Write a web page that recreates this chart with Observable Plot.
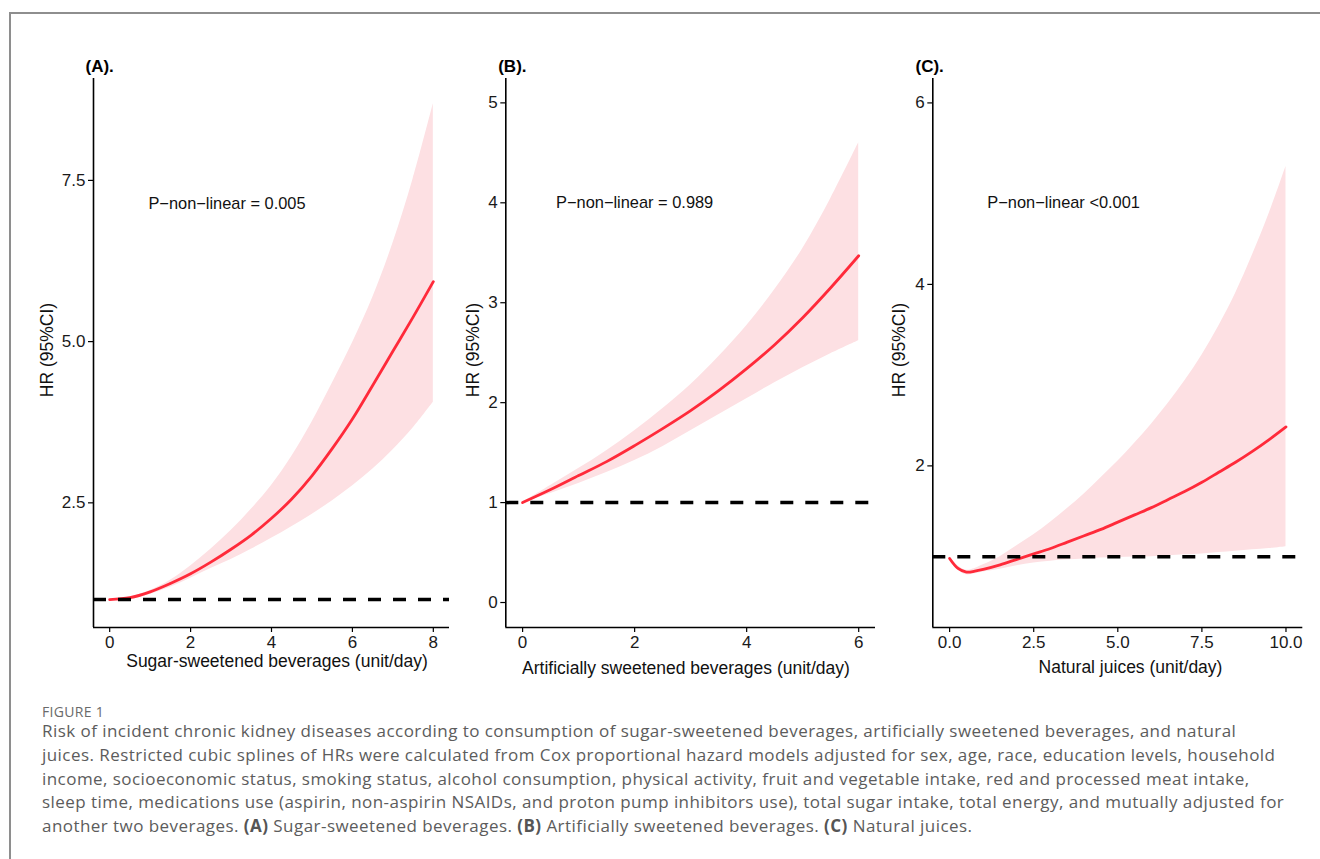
<!DOCTYPE html>
<html>
<head>
<meta charset="utf-8">
<script src="https://cdn.jsdelivr.net/npm/d3@7"></script>
<script src="https://cdn.jsdelivr.net/npm/@observablehq/plot@0.6"></script>
<style>
html,body{margin:0;padding:0;background:#fff;}
#wrap{position:relative;width:1320px;height:859px;overflow:hidden;background:#fff;}
#frame{position:absolute;left:9px;top:12px;width:1400px;height:900px;border-top:2px solid #8e8e8e;border-left:2px solid #8e8e8e;}
.panel{position:absolute;top:40px;}
.panel svg{overflow:visible;}
#figlabel{position:absolute;left:42px;top:702px;font-family:"Open Sans",sans-serif;font-size:14px;line-height:20px;color:#6a6a6a;letter-spacing:0.3px;}
#caption{position:absolute;left:42px;top:719px;font-family:"Open Sans",sans-serif;font-size:17px;letter-spacing:0.45px;line-height:23.8px;color:#5c5c5c;white-space:nowrap;}
#caption b{font-weight:700;color:#555;}
</style>
</head>
<body>
<div id="wrap">
  <div id="frame"></div>
  <div id="figlabel">FIGURE 1</div>
  <div id="caption">Risk of incident chronic kidney diseases according to consumption of sugar-sweetened beverages, artificially sweetened beverages, and natural<br>juices. Restricted cubic splines of HRs were calculated from Cox proportional hazard models adjusted for sex, age, race, education levels, household<br>income, socioeconomic status, smoking status, alcohol consumption, physical activity, fruit and vegetable intake, red and processed meat intake,<br>sleep time, medications use (aspirin, non-aspirin NSAIDs, and proton pump inhibitors use), total sugar intake, total energy, and mutually adjusted for<br>another two beverages. <b>(A)</b> Sugar-sweetened beverages. <b>(B)</b> Artificially sweetened beverages. <b>(C)</b> Natural juices.</div>
</div>
<script>
// ---------- Panel A: Sugar-sweetened beverages ----------
const A_x  = [0, 0.5, 1, 1.5, 2, 2.5, 3, 3.5, 4, 4.5, 5, 5.5, 6, 6.5, 7, 7.5, 8];
const A_hr = [1.00, 1.03, 1.12, 1.25, 1.40, 1.58, 1.78, 2.00, 2.26, 2.56, 2.92, 3.34, 3.80, 4.32, 4.85, 5.38, 5.93];
const A_lo = [1.00, 1.00, 1.08, 1.19, 1.33, 1.48, 1.62, 1.78, 1.95, 2.13, 2.32, 2.53, 2.76, 3.02, 3.32, 3.66, 4.06];
const A_hi = [1.00, 1.04, 1.14, 1.30, 1.52, 1.78, 2.07, 2.40, 2.77, 3.22, 3.75, 4.35, 4.98, 5.68, 6.52, 7.52, 8.69];
const A_xticks = [0, 2, 4, 6, 8];
const A_yticks = [2.5, 5.0, 7.5];

// ---------- Panel B: Artificially sweetened beverages ----------
const B_x  = [0, 0.5, 1, 1.5, 2, 2.5, 3, 3.5, 4, 4.5, 5, 5.5, 6];
const B_hr = [1.00, 1.13, 1.27, 1.41, 1.57, 1.74, 1.92, 2.12, 2.34, 2.58, 2.85, 3.15, 3.47];
const B_lo = [1.00, 1.09, 1.19, 1.30, 1.42, 1.56, 1.72, 1.88, 2.04, 2.20, 2.35, 2.49, 2.62];
const B_hi = [1.00, 1.17, 1.34, 1.52, 1.72, 1.94, 2.18, 2.46, 2.77, 3.13, 3.54, 4.04, 4.60];
const B_xticks = [0, 2, 4, 6];
const B_yticks = [0, 1, 2, 3, 4, 5];

// ---------- Panel C: Natural juices ----------
const C_x  = [0, 0.25, 0.5, 0.75, 1, 1.5, 2, 2.5, 3, 3.5, 4, 4.5, 5, 5.5, 6, 6.5, 7, 7.5, 8, 8.5, 9, 9.5, 10];
const C_hr = [0.98, 0.87, 0.83, 0.84, 0.86, 0.91, 0.97, 1.03, 1.09, 1.16, 1.23, 1.30, 1.38, 1.46, 1.54, 1.63, 1.72, 1.82, 1.93, 2.04, 2.16, 2.29, 2.43];
const C_lo = [0.96, 0.85, 0.80, 0.81, 0.83, 0.86, 0.90, 0.93, 0.95, 0.965, 0.975, 0.985, 0.99, 0.995, 1.00, 1.01, 1.02, 1.03, 1.045, 1.06, 1.075, 1.09, 1.11];
const C_hi = [1.00, 0.90, 0.85, 0.87, 0.91, 1.00, 1.12, 1.24, 1.38, 1.53, 1.69, 1.87, 2.05, 2.25, 2.46, 2.69, 2.94, 3.22, 3.54, 3.90, 4.32, 4.78, 5.30];
const C_xticks = [0, 2.5, 5, 7.5, 10];
const C_yticks = [2, 4, 6];

const FONT = "'Liberation Sans', Arial, Helvetica, sans-serif";
const RED = "#ff2a3a";
const BAND = "#fde0e3";

function panel(cfg) {
  const rows = cfg.x.map((x, i) => ({x, hr: cfg.hr[i], lo: cfg.lo[i], hi: cfg.hi[i]}));
  const chart = Plot.plot({
    width: cfg.width,
    height: 640,
    marginLeft: cfg.ml,
    marginRight: cfg.mr,
    marginTop: 38,
    marginBottom: 53,
    style: {fontFamily: FONT, fontSize: "17px", color: "#000", background: "transparent", overflow: "visible"},
    x: {domain: cfg.xdom},
    y: {domain: cfg.ydom},
    marks: [
      Plot.areaY(rows, {x: "x", y1: "lo", y2: "hi", fill: BAND, curve: "catmull-rom"}),
      Plot.lineY(rows, {x: "x", y: "hr", stroke: RED, strokeWidth: 2.8, curve: "catmull-rom"}),
      Plot.ruleY([1], {stroke: "#000", strokeWidth: 3.5, strokeDasharray: "13,12"}),
      Plot.ruleX([cfg.xdom[0]], {stroke: "#000", strokeWidth: 1.6}),
      Plot.ruleY([cfg.ydom[0]], {stroke: "#000", strokeWidth: 1.6}),
      Plot.axisX({ticks: cfg.xticks, tickFormat: cfg.xfmt, tickSize: 5, tickPadding: 3, fontSize: 17, label: null, stroke: "#000", strokeWidth: 1.2, fill: "#1a1a1a"}),
      Plot.axisY({ticks: cfg.yticks, tickFormat: cfg.yfmt, tickSize: 5, tickPadding: 3, fontSize: 17, label: null, stroke: "#000", strokeWidth: 1.2, fill: "#1a1a1a"}),
      Plot.text([cfg.tag], {frameAnchor: "top-left", text: d => d, dx: cfg.tagdx, dy: -11.5, textAnchor: "start", lineAnchor: "middle", fontWeight: "bold", fontSize: 17, fill: "#000"}),
      Plot.text([cfg.ptext], {x: () => cfg.px, y: () => cfg.py, text: d => d, fontSize: 16.4, fill: "#111", lineAnchor: "middle"}),
      Plot.text(["HR (95%CI)"], {frameAnchor: "left", text: d => d, rotate: -90, dx: cfg.ylabdx, dy: -3, fontSize: 17.5, fill: "#111", textAnchor: "middle", lineAnchor: "middle"}),
      Plot.text([cfg.xlabel], {frameAnchor: "bottom", text: d => d, dx: cfg.xlabdx, dy: cfg.xlabdy, fontSize: 17.5, fill: "#111", textAnchor: "middle", lineAnchor: "middle"})
    ]
  });
  const div = document.createElement("div");
  div.className = "panel";
  div.style.left = cfg.left + "px";
  div.appendChild(chart);
  document.getElementById("wrap").appendChild(div);
}

panel({
  x: A_x, hr: A_hr, lo: A_lo, hi: A_hi, xticks: A_xticks, yticks: A_yticks,
  xfmt: d3.format("d"), yfmt: d3.format(".1f"),
  left: 0, width: 460, ml: 93, mr: 11,
  xdom: [-0.4, 8.4], ydom: [0.567, 9.08],
  tag: "(A).", tagdx: -8,
  ptext: "P\u2212non\u2212linear = 0.005", px: 2.9, py: 7.14,
  ylabdx: -46, xlabel: "Sugar-sweetened beverages (unit/day)", xlabdx: 5.5, xlabdy: 34
});

panel({
  x: B_x, hr: B_hr, lo: B_lo, hi: B_hi, xticks: B_xticks, yticks: B_yticks,
  xfmt: d3.format("d"), yfmt: d3.format("d"),
  left: 440, width: 450, ml: 65.3, mr: 15,
  xdom: [-0.3, 6.3], ydom: [-0.25, 5.244],
  tag: "(B).", tagdx: -7.6,
  ptext: "P\u2212non\u2212linear = 0.989", px: 2.0, py: 4.0,
  ylabdx: -32.3, xlabel: "Artificially sweetened beverages (unit/day)", xlabdx: -4.7, xlabdy: 41
});

panel({
  x: C_x, hr: C_hr, lo: C_lo, hi: C_hi, xticks: C_xticks, yticks: C_yticks,
  xfmt: d3.format(".1f"), yfmt: d3.format("d"),
  left: 870, width: 450, ml: 62.3, mr: 17.7,
  xdom: [-0.5, 10.5], ydom: [0.219, 6.269],
  tag: "(C).", tagdx: -17.3,
  ptext: "P\u2212non\u2212linear <0.001", px: 3.39, py: 4.9,
  ylabdx: -33.3, xlabel: "Natural juices (unit/day)", xlabdx: 12.7, xlabdy: 40
});
</script>
</body>
</html>
